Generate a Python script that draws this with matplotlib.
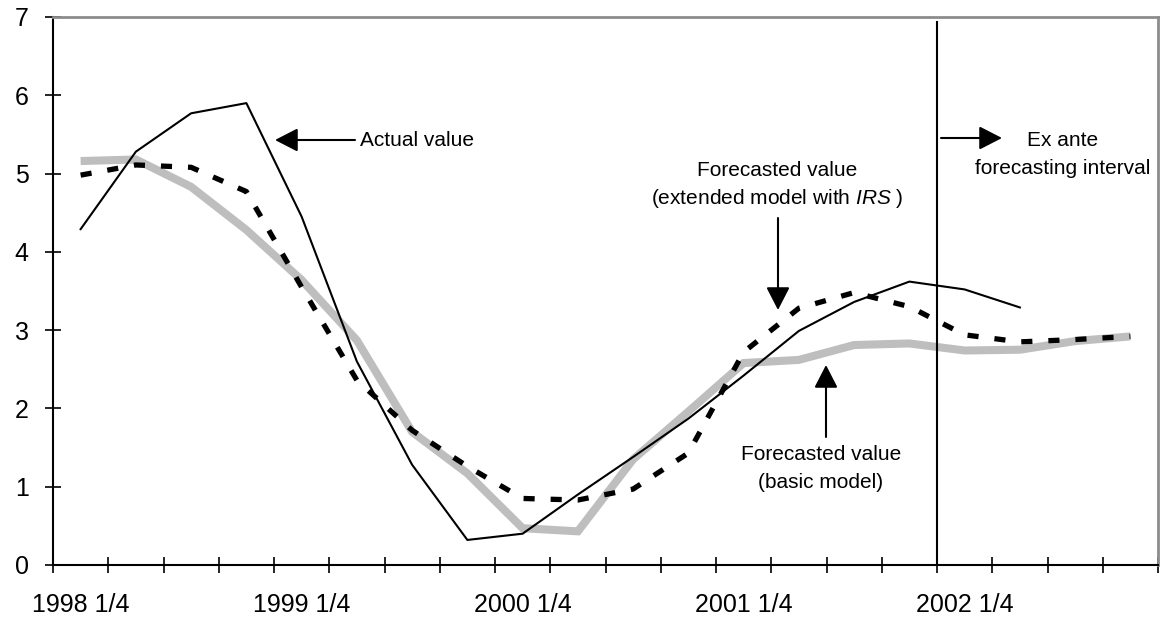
import matplotlib
matplotlib.use("Agg")
import matplotlib.pyplot as plt
import numpy as np

plt.rcParams['font.family'] = ['Liberation Sans', 'DejaVu Sans']
plt.rcParams['mathtext.fontset'] = 'custom'
plt.rcParams['mathtext.it'] = 'Liberation Sans:italic'
plt.rcParams['mathtext.rm'] = 'Liberation Sans'
plt.rcParams['lines.scale_dashes'] = False

quarters = [f"{y} {q}/4" for y in range(1998, 2003) for q in range(1, 5)]
tick_labels = ["1998 1/4", "1999 1/4", "2000 1/4", "2001 1/4", "2002 1/4"]

actual = [4.29, 5.28, 5.77, 5.90, 4.45, 2.60, 1.28, 0.32, 0.40, 0.90,
          1.38, 1.87, 2.42, 2.99, 3.36, 3.62, 3.52, 3.29]
extended = [4.98, 5.11, 5.08, 4.77, 3.55, 2.36, 1.72, 1.26, 0.85, 0.83,
            0.97, 1.43, 2.72, 3.28, 3.48, 3.30, 2.94, 2.85, 2.88, 2.92]
basic = [5.16, 5.18, 4.83, 4.28, 3.64, 2.87, 1.70, 1.17, 0.47, 0.43,
         1.35, 1.96, 2.58, 2.62, 2.81, 2.83, 2.74, 2.75, 2.86, 2.92]

W, H = 1162, 620
fig = plt.figure(figsize=(W / 100, H / 100), dpi=100)
ax = fig.add_axes([53 / W, (H - 565) / H, (1158 - 53) / W, (565 - 17) / H])

x_all = np.arange(len(quarters))
ax.plot(x_all[:len(basic)], basic, color='#bebebe', lw=5.8, solid_capstyle='butt',
        solid_joinstyle='miter', zorder=2)
ax.plot(x_all[:len(extended)], extended, color='black', lw=3.8, dashes=(8, 11.5),
        dash_capstyle='butt', zorder=3)
ax.plot(x_all[:len(actual)], actual, color='black', lw=1.5, zorder=4)

# forecast boundary line
ax.plot([15.5, 15.5], [0, 6.93], color='black', lw=1.5, zorder=4)

ax.set_xlim(-0.5, len(quarters) - 0.5)
ax.set_ylim(0, 7)

ax.set_xticks([quarters.index(t) for t in tick_labels])
ax.set_xticklabels(tick_labels, fontsize=18)
ax.set_xticks(np.arange(-0.5, len(quarters), 1.0), minor=True)
ax.tick_params(axis='x', which='major', length=0, pad=20)
ax.tick_params(axis='x', which='minor', direction='inout', length=11, width=1.2, color='black')
ax.set_yticks(range(0, 8))
ax.tick_params(axis='y', which='major', direction='inout', length=11, width=1.2,
               labelsize=18, pad=12)

for s in ['left', 'bottom']:
    ax.spines[s].set_color('black')
    ax.spines[s].set_linewidth(1.5)
for s in ['top', 'right']:
    ax.spines[s].set_color('#8c8c8c')
    ax.spines[s].set_linewidth(2)

arrow = dict(arrowstyle='-|>,head_length=1.4,head_width=0.72', color='black', lw=1.5,
             shrinkA=0, shrinkB=0)

def px(xp, yp):
    return ax.transData.inverted().transform((xp, H - yp))

fig.canvas.draw()

# Actual value
ax.annotate('', xy=px(275, 140), xytext=px(355, 140), arrowprops=arrow)
ax.text(*px(360, 140), 'Actual value', fontsize=15, ha='left', va='center')

# Ex ante
ax.annotate('', xy=px(1002, 138), xytext=px(941, 138), arrowprops=arrow)
ax.text(*px(1063, 140), 'Ex ante', fontsize=15, ha='center', va='center')
ax.text(*px(1063, 168), 'forecasting interval', fontsize=15, ha='center', va='center')

# Extended model
ax.text(*px(777, 170), 'Forecasted value', fontsize=15, ha='center', va='center')
ax.text(*px(777, 199), r'(extended model with $\mathit{IRS}$ )', fontsize=15,
        ha='center', va='center')
ax.annotate('', xy=px(778, 310), xytext=px(778, 218), arrowprops=arrow)

# Basic model
ax.annotate('', xy=px(826, 365), xytext=px(826, 437), arrowprops=arrow)
ax.text(*px(821, 455), 'Forecasted value', fontsize=15, ha='center', va='center')
ax.text(*px(821, 483), '(basic model)', fontsize=15, ha='center', va='center')

fig.savefig('out.png', dpi=100)
